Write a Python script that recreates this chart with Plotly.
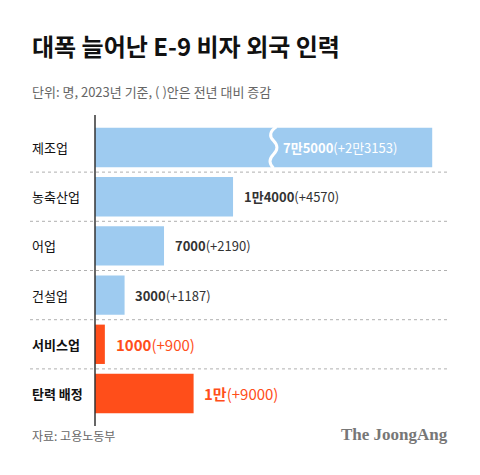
import plotly.graph_objects as go

categories = ["제조업", "농축산업", "어업", "건설업", "서비스업", "탄력 배정"]
values = [75000, 14000, 7000, 3000, 1000, 10000]
display_values = [34200, 14000, 7000, 3000, 1000, 10000]  # 제조업 bar truncated (broken axis)
value_labels = ["7만5000", "1만4000", "7000", "3000", "1000", "1만"]
change_labels = ["(+2만3153)", "(+4570)", "(+2190)", "(+1187)", "(+900)", "(+9000)"]
highlight = [False, False, False, False, True, True]

BLUE = "#9ecbf0"
ORANGE = "#ff4e1a"
FONT = "Noto Sans CJK KR"
OFF = 8  # default page body margin

colors = [ORANGE if h else BLUE for h in highlight]
fig = go.Figure(go.Bar(x=display_values, y=categories, orientation="h",
                       marker=dict(color=colors, line=dict(width=0)), width=0.8,
                       hoverinfo="skip"))

W, H = 480 - OFF, 475 - OFF
L, R, T, B = 95 - OFF, 32, 118 - OFF, 52
pw, ph = W - L - R, H - T - B
lab_x = -65 / pw

ann = []
for i, (c, dv) in enumerate(zip(categories, display_values)):
    h = highlight[i]
    ann.append(dict(x=lab_x, xref="paper", y=c, yref="y", text=f"<b>{c}</b>" if h else c,
                    showarrow=False, xanchor="left",
                    font=dict(family=FONT, size=13, color="#111")))
    if i == 0:
        txt = f"<b>{value_labels[i]}</b>{change_labels[i]}"
        ann.append(dict(x=18900, y=c, text=txt, showarrow=False, xanchor="left",
                        font=dict(family=FONT, size=13, color="white")))
    elif h:
        ann.append(dict(x=dv + 900, y=c, text=f"<b>{value_labels[i]}</b>{change_labels[i]}",
                        showarrow=False, xanchor="left",
                        font=dict(family=FONT, size=15, color=ORANGE)))
    else:
        ann.append(dict(x=dv + 900, y=c, text=f"<b>{value_labels[i]}</b>{change_labels[i]}",
                        showarrow=False, xanchor="left",
                        font=dict(family=FONT, size=13, color="#333")))

hdr = [
    dict(x=30, y=45, text="<b>대폭 늘어난 E-9 비자 외국 인력</b>",
         showarrow=False, xanchor="left", yanchor="middle",
         font=dict(family=FONT, size=24, color="#111")),
    dict(x=30, y=80, text="단위: 명, 2023년 기준, ( )안은 전년 대비 증감", showarrow=False,
         xanchor="left", font=dict(family=FONT, size=13, color="#666")),
    dict(x=30, y=446, text="자료: 고용노동부", showarrow=False, xanchor="left",
         font=dict(family=FONT, size=12, color="#666")),
    dict(x=450, y=446, text="<b>The JoongAng</b>", showarrow=False, xanchor="right",
         font=dict(family="Liberation Serif", size=17, color="#777")),
]
for a in hdr:
    a["xref"] = "paper"; a["yref"] = "paper"
    a["x"] = (a["x"] - OFF - L) / pw
    a["y"] = 1 - (a["y"] - OFF - T) / ph
ann += hdr

shapes = []
for k in range(1, len(categories)):
    shapes.append(dict(type="line", xref="paper", x0=lab_x, x1=(448 - OFF - L) / pw,
                       y0=k - 0.5, y1=k - 0.5, yref="y",
                       line=dict(color="#b0b0b0", width=1, dash="dot")))
shapes.append(dict(type="line", xref="paper", x0=0, x1=0, yref="paper", y0=-0.01, y1=1.01,
                   line=dict(color="#333", width=1.5)))
shapes.append(dict(type="path", xref="x", yref="y",
                   path="M 18400,-0.42 Q 17400,-0.28 18100,-0.14 T 18100,0.14 T 18100,0.42",
                   line=dict(color="white", width=3)))

fig.update_layout(
    width=W, height=H, margin=dict(l=L, r=R, t=T, b=B),
    paper_bgcolor="white", plot_bgcolor="white", showlegend=False,
    xaxis=dict(range=[0, pw / 9.86 * 1000], visible=False, fixedrange=True),
    yaxis=dict(autorange=False, visible=False, range=[5.6, -0.6]),
    annotations=ann, shapes=shapes,
)
fig.write_html("out.html")
